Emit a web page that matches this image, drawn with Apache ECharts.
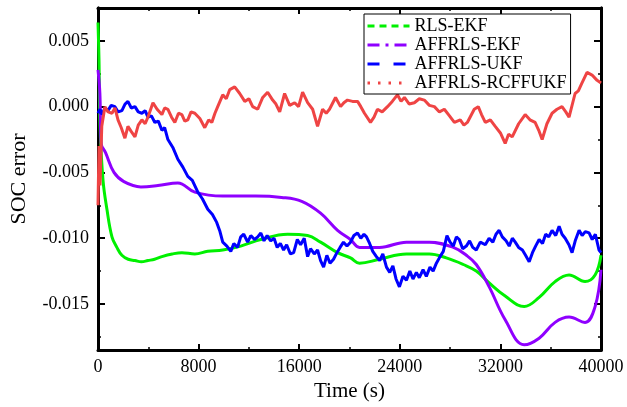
<!DOCTYPE html>
<html><head><meta charset="utf-8">
<script src="https://cdn.jsdelivr.net/npm/echarts@6/dist/echarts.min.js"></script>
<style>html,body{margin:0;padding:0;background:#fff}#c{width:627px;height:407px}</style>
</head><body><div id="c"></div>
<script>
const seriesNames = ['RLS-EKF', 'AFFRLS-EKF', 'AFFRLS-UKF', 'AFFRLS-RCFFUKF'];
const xTicks = [0, 8000, 16000, 24000, 32000, 40000];
const yTicks = [-0.015, -0.010, -0.005, 0.000, 0.005];
const yMinorTicks = [-0.0175, -0.0125, -0.0075, -0.0025, 0.0025];

const greenTime = [0,80,160,400,710,1110,1500,1900,2400,2940,3450,3970,4500,5080,5900,6670,7700,8730,9920,11350,12940,15080,16670,17700,19050,20080,20800,22380,24530,26350,27700,29050,30080,31110,32380,33890,35080,36350,37460,38730,39530,40000];
const greenSoc = [0.0064,0.0035,-0.0015,-0.0056,-0.0078,-0.0099,-0.0107,-0.0113,-0.0116,-0.0117,-0.0118,-0.0117,-0.0116,-0.0114,-0.0112,-0.0111,-0.0112,-0.0110,-0.0109,-0.0106,-0.0101,-0.0097,-0.0098,-0.0103,-0.0111,-0.0115,-0.0119,-0.0116,-0.0112,-0.0112,-0.0115,-0.0120,-0.0125,-0.0134,-0.0144,-0.0152,-0.0145,-0.0133,-0.0128,-0.0133,-0.0128,-0.0113];

const purpleTime = [0,150,250,600,1270,2060,3410,4760,6350,7700,9920,12540,14600,16200,17700,19050,20080,20800,22380,24530,26350,28260,29290,30080,31110,32380,33890,35080,36350,37460,38730,39530,40000];
const purpleSoc = [0.0028,0.0010,-0.0028,-0.0035,-0.0050,-0.0057,-0.0061,-0.0060,-0.0058,-0.0065,-0.0068,-0.0068,-0.0069,-0.0072,-0.0081,-0.0094,-0.0101,-0.0107,-0.0107,-0.0103,-0.0103,-0.0107,-0.0113,-0.0120,-0.0137,-0.0162,-0.0181,-0.0176,-0.0164,-0.0160,-0.0164,-0.0152,-0.0124];

const blueTime = [0,160,320,550,790,1050,1350,1600,1900,2150,2380,2650,2940,3200,3490,3750,3970,4250,4520,4800,5080,5300,5560,5950,6350,6750,7140,7500,7940,8300,8730,9100,9440,9700,9920,10250,10560,10800,11100,11350,11590,11900,12150,12450,12700,12950,13200,13450,13730,14000,14250,14500,14760,15000,15300,15560,15850,16110,16400,16670,16900,17200,17460,17700,17940,18200,18450,18730,19000,19250,19520,19800,20080,20350,20640,20900,21150,21350,21600,21850,22140,22400,22650,22940,23200,23450,23700,23970,24250,24530,24800,25050,25320,25550,25850,26110,26400,26650,26910,27200,27460,27750,28000,28260,28500,28730,29000,29290,29550,29800,30080,30400,30800,31100,31400,31650,31900,32150,32450,32700,32950,33180,33450,33750,34000,34290,34550,34800,35080,35350,35600,35850,36110,36400,36670,36900,37150,37450,37700,37950,38260,38500,38750,39050,39300,39550,39840,40000];
const blueSoc = [-0.0005,-0.0002,-0.0006,-0.0001,-0.0003,0.0001,0.0000,-0.0004,-0.0003,0.0002,0.0004,-0.0001,0.0000,-0.0004,-0.0005,-0.0003,-0.0008,-0.0007,-0.0012,-0.0011,-0.0018,-0.0016,-0.0025,-0.0031,-0.0040,-0.0046,-0.0053,-0.0056,-0.0065,-0.0070,-0.0078,-0.0082,-0.0088,-0.0095,-0.0103,-0.0106,-0.0110,-0.0104,-0.0107,-0.0099,-0.0097,-0.0103,-0.0098,-0.0101,-0.0099,-0.0096,-0.0102,-0.0098,-0.0102,-0.0100,-0.0107,-0.0104,-0.0109,-0.0105,-0.0112,-0.0111,-0.0101,-0.0105,-0.0100,-0.0114,-0.0108,-0.0112,-0.0109,-0.0117,-0.0122,-0.0113,-0.0119,-0.0116,-0.0111,-0.0107,-0.0103,-0.0106,-0.0103,-0.0098,-0.0096,-0.0100,-0.0097,-0.0099,-0.0104,-0.0110,-0.0114,-0.0117,-0.0112,-0.0122,-0.0126,-0.0121,-0.0131,-0.0137,-0.0129,-0.0132,-0.0125,-0.0131,-0.0126,-0.0130,-0.0124,-0.0129,-0.0122,-0.0125,-0.0119,-0.0114,-0.0110,-0.0098,-0.0103,-0.0106,-0.0099,-0.0101,-0.0108,-0.0106,-0.0102,-0.0107,-0.0109,-0.0103,-0.0105,-0.0100,-0.0103,-0.0097,-0.0094,-0.0099,-0.0102,-0.0106,-0.0100,-0.0103,-0.0107,-0.0109,-0.0113,-0.0118,-0.0111,-0.0106,-0.0101,-0.0104,-0.0097,-0.0099,-0.0094,-0.0098,-0.0091,-0.0097,-0.0100,-0.0105,-0.0111,-0.0102,-0.0094,-0.0098,-0.0095,-0.0096,-0.0101,-0.0097,-0.0109,-0.0111];

const redTime = [0,80,160,300,550,800,1110,1350,1590,1850,2140,2380,2650,2940,3200,3490,3750,3970,4370,4700,5080,5300,5560,5850,6110,6400,6670,6900,7140,7400,7700,8100,8490,8800,9050,9300,9520,9920,10200,10480,10870,11270,11670,12000,12300,12700,13100,13490,13890,14150,14450,14840,15240,15640,15950,16270,16670,17070,17460,17860,18150,18410,18890,19290,19550,19840,20240,20640,20900,21190,21670,21950,22220,22600,23020,23400,23810,24100,24370,24750,25160,25550,25950,26350,26750,27150,27540,27950,28340,28810,29100,29370,29920,30240,30500,30800,31200,31590,32000,32380,32650,32940,33450,33970,34350,34760,35050,35320,35700,36110,36500,36900,37200,37460,37940,38200,38490,38890,39290,39690,40000];
const redSoc = [-0.0075,-0.0030,-0.0060,-0.0015,0.0000,-0.0004,-0.0005,-0.0001,-0.0010,-0.0016,-0.0024,-0.0015,-0.0019,-0.0023,-0.0014,-0.0010,-0.0013,-0.0008,0.0003,-0.0002,-0.0006,-0.0001,-0.0002,-0.0008,-0.0012,-0.0005,-0.0006,-0.0011,-0.0010,-0.0004,-0.0005,-0.0009,-0.0016,-0.0010,-0.0012,-0.0005,0.0000,0.0009,0.0006,0.0013,0.0015,0.0010,0.0004,0.0006,0.0000,-0.0002,0.0007,0.0011,0.0005,0.0002,-0.0004,0.0010,0.0001,0.0003,0.0000,0.0011,0.0003,-0.0002,-0.0015,-0.0002,-0.0005,-0.0002,0.0007,0.0000,0.0003,0.0005,0.0004,0.0004,0.0000,-0.0005,-0.0012,-0.0008,-0.0002,-0.0004,0.0000,0.0004,0.0009,0.0004,0.0007,0.0002,0.0003,0.0006,0.0005,0.0001,0.0000,-0.0004,-0.0002,-0.0007,-0.0012,-0.0010,-0.0014,-0.0012,-0.0002,0.0000,-0.0006,-0.0012,-0.0010,-0.0015,-0.0020,-0.0028,-0.0021,-0.0023,-0.0013,-0.0006,-0.0010,-0.0012,-0.0018,-0.0025,-0.0013,-0.0005,-0.0002,0.0000,-0.0004,-0.0008,0.0010,0.0012,0.0018,0.0026,0.0024,0.0020,0.0018];

const colors = ['#00f000', '#8f00ff', '#0000ff', '#ef4444'];

function pairs(t, v) { return t.map((x, i) => [x, v[i]]); }

const font = 'Liberation Serif';
const chart = echarts.init(document.getElementById('c'), null, {renderer: 'canvas'});

const baseX = {
  type: 'value', min: 0, max: 40000, interval: 8000,
  splitLine: {show: false},
  axisLine: {show: true, onZero: false, lineStyle: {color: '#000', width: 3}},
  axisTick: {show: true, inside: true, length: 6, lineStyle: {color: '#000', width: 2}},
  minorTick: {show: true, splitNumber: 2, length: 3, lineStyle: {color: '#000', width: 1.5}},
  minorSplitLine: {show: false}
};
function yAx(pos, custom, len, labels) {
  return {
    type: 'value', min: -0.0185, max: 0.0075, position: pos, offset: 0,
    splitLine: {show: false},
    axisLine: {show: true, onZero: false, lineStyle: {color: '#000', width: 3}},
    axisTick: {show: true, inside: true, length: len, customValues: custom, lineStyle: {color: '#000', width: len > 4 ? 2 : 1.5}},
    axisLabel: labels ? {show: true, customValues: custom, formatter: v => v.toFixed(3), color: '#000', fontSize: 18, fontFamily: font, margin: 9} : {show: false}
  };
}

chart.setOption({
  animation: false,
  backgroundColor: '#fff',
  color: colors,
  grid: {left: 97, right: 26, top: 8, bottom: 57, containLabel: false},
  xAxis: [
    Object.assign({}, baseX, {position: 'bottom',
      axisLabel: {color: '#000', fontSize: 18, fontFamily: font, margin: 8, formatter: v => String(v)},
      name: 'Time (s)', nameLocation: 'middle', nameGap: 31,
      nameTextStyle: {color: '#000', fontSize: 21, fontFamily: font}}),
    Object.assign({}, baseX, {position: 'top', axisLabel: {show: false}})
  ],
  yAxis: [
    Object.assign(yAx('left', yTicks, 7, true), {name: 'SOC error', nameLocation: 'middle', nameGap: 68,
      nameTextStyle: {color: '#000', fontSize: 22, fontFamily: font}}),
    yAx('left', yMinorTicks, 3, false),
    yAx('right', yTicks, 7, false),
    yAx('right', yMinorTicks, 3, false)
  ],
  legend: {
    orient: 'vertical', left: 364, top: 14,
    itemWidth: 42, itemHeight: 14, itemGap: 1,
    padding: [3, 4, 2, 2],
    borderColor: '#000', borderWidth: 1, backgroundColor: '#fff',
    itemStyle: {opacity: 0},
    textStyle: {color: '#000', fontSize: 18, fontFamily: font},
    data: [
      {name: seriesNames[0], lineStyle: {type: [7, 5], width: 3}},
      {name: seriesNames[1], lineStyle: {type: [12, 6, 3, 6], width: 3}},
      {name: seriesNames[2], lineStyle: {type: [12, 14], width: 3}},
      {name: seriesNames[3], lineStyle: {type: [2.5, 8], width: 3}}
    ]
  },
  series: [
    {name: seriesNames[0], type: 'line', data: pairs(greenTime, greenSoc), smooth: 0.4, symbol: 'none', lineStyle: {width: 3}},
    {name: seriesNames[1], type: 'line', data: pairs(purpleTime, purpleSoc), smooth: 0.4, symbol: 'none', lineStyle: {width: 3}},
    {name: seriesNames[2], type: 'line', data: pairs(blueTime, blueSoc), symbol: 'none', lineStyle: {width: 3}},
    {name: seriesNames[3], type: 'line', data: pairs(redTime, redSoc), symbol: 'none', lineStyle: {width: 3}}
  ]
});
</script></body></html>
